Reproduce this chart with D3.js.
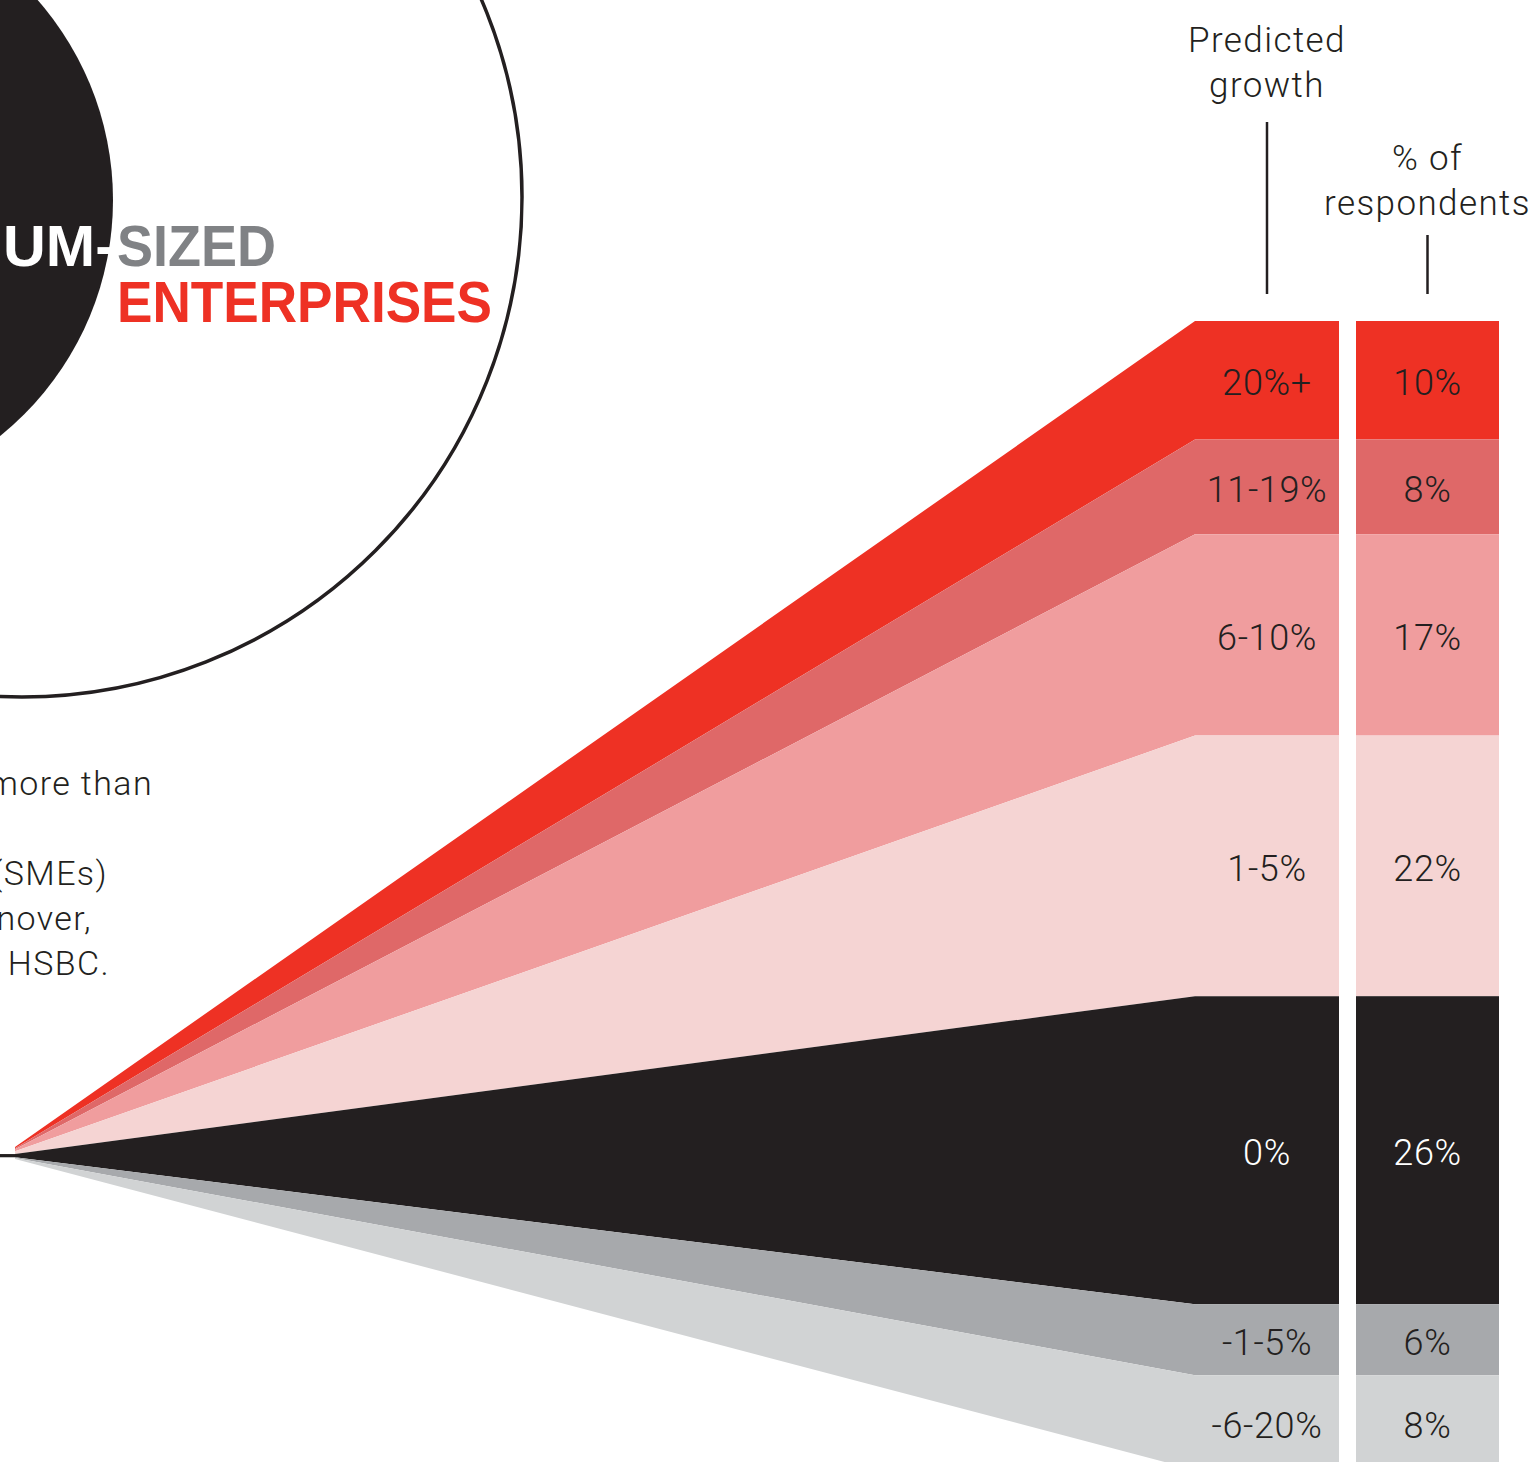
<!DOCTYPE html>
<html>
<head>
<meta charset="utf-8">
<title>SME predicted growth</title>
<script src="https://cdn.jsdelivr.net/npm/d3@7/dist/d3.min.js"></script>
<style>
  * { margin: 0; padding: 0; }
  body { background: #fff; overflow: hidden; }
  svg { display: block; }
</style>
</head>
<body>
<div id="show"></div>
<script>
// data
var growthLabels = ["20%+", "11-19%", "6-10%", "1-5%", "0%", "-1-5%", "-6-20%"];
var respondents = [10, 8, 17, 22, 26, 6, 8];
var bandColors = ["#ee3124", "#df6868", "#f09d9e", "#f5d4d3", "#231f20", "#a7a9ac", "#d1d3d4"];
var textColors = ["#231f20", "#231f20", "#231f20", "#231f20", "#ffffff", "#231f20", "#231f20"];
var headers = [["Predicted", "growth"], ["% of", "respondents"]];
var paragraph = ["more than", "", "(SMEs)", "turnover,", "HSBC."];

var W = 1537, H = 1462;
var apexX = 15, fanEnd = 1195, col1End = 1339, col2Start = 1356, col2End = 1499;

var total = d3.sum(respondents);
var cum = [0].concat(Array.from(d3.cumsum(respondents)));

// band heights at the right, and the pinched end at the apex
var y = d3.scaleLinear().domain([0, total]).range([321, 1470]);
var yApex = d3.scaleLinear().domain([0, total]).range([1147, 1159]);

var bands = respondents.map(function(v, i){
  return { label: growthLabels[i], value: v, c0: cum[i], c1: cum[i + 1],
           fill: bandColors[i], text: textColors[i] };
});

var svg = d3.select("#show").append("svg")
  .attr("width", W).attr("height", H);

// circles top-left
svg.append("circle").attr("cx", -190).attr("cy", 200).attr("r", 303)
  .attr("fill", "#231f20");
svg.append("circle").attr("cx", 22).attr("cy", 197).attr("r", 500)
  .attr("fill", "none").attr("stroke", "#231f20").attr("stroke-width", 3.5);

// title
var tf = "'Liberation Sans', Arial, sans-serif";
svg.append("text").attr("x", 3).attr("y", 266)
  .attr("font-family", tf).attr("font-weight", "bold").attr("font-size", 58)
  .attr("fill", "#fff").attr("textLength", 112).attr("lengthAdjust", "spacingAndGlyphs")
  .text("UM-");
svg.append("text").attr("x", 117).attr("y", 266)
  .attr("font-family", tf).attr("font-weight", "bold").attr("font-size", 58)
  .attr("fill", "#808285").attr("textLength", 159).attr("lengthAdjust", "spacingAndGlyphs")
  .text("SIZED");
svg.append("text").attr("x", 117).attr("y", 322)
  .attr("font-family", tf).attr("font-weight", "bold").attr("font-size", 58)
  .attr("fill", "#ee3124").attr("textLength", 375).attr("lengthAdjust", "spacingAndGlyphs")
  .text("ENTERPRISES");

// clipped intro paragraph (cut by the left edge as in the source layout)
var pEnds = [153, 0, 108, 92, 110];
svg.append("g").selectAll("text").data(paragraph).enter().append("text")
  .attr("x", function(d, i){ return pEnds[i]; })
  .attr("y", function(d, i){ return 795 + i * 45; })
  .attr("text-anchor", "end")
  .attr("font-family", "Roboto, sans-serif").attr("font-weight", 300)
  .attr("font-size", 34).attr("letter-spacing", 1.4).attr("fill", "#231f20")
  .text(function(d){ return d; });

// fan + first column
var fan = svg.append("g").attr("class", "fan");
fan.append("rect").attr("x", 0).attr("y", yApex(cum[4])).attr("width", apexX + 2)
  .attr("height", yApex(cum[5]) - yApex(cum[4])).attr("fill", bandColors[4]);

fan.selectAll("path").data(bands).enter().append("path")
  .attr("fill", function(d){ return d.fill; })
  .attr("d", function(d){
    var p = d3.path();
    p.moveTo(apexX, yApex(d.c0));
    p.lineTo(fanEnd, y(d.c0));
    p.lineTo(col1End, y(d.c0));
    p.lineTo(col1End, y(d.c1));
    p.lineTo(fanEnd, y(d.c1));
    p.lineTo(apexX, yApex(d.c1));
    p.closePath();
    return p.toString();
  });

// second column
svg.append("g").selectAll("rect").data(bands).enter().append("rect")
  .attr("x", col2Start).attr("width", col2End - col2Start)
  .attr("y", function(d){ return y(d.c0); })
  .attr("height", function(d){ return y(d.c1) - y(d.c0); })
  .attr("fill", function(d){ return d.fill; });

// labels
var lf = "Roboto, sans-serif";
var labels = svg.append("g").attr("font-family", lf).attr("font-weight", 300)
  .attr("font-size", 36).attr("text-anchor", "middle");
labels.selectAll("text.g").data(bands).enter().append("text").attr("class", "g")
  .attr("x", (fanEnd + col1End) / 2)
  .attr("y", function(d){ return (y(d.c0) + y(d.c1)) / 2 + 15; })
  .attr("fill", function(d){ return d.text; })
  .attr("letter-spacing", 0.6)
  .text(function(d){ return d.label; });
labels.selectAll("text.r").data(bands).enter().append("text").attr("class", "r")
  .attr("x", (col2Start + col2End) / 2)
  .attr("y", function(d){ return (y(d.c0) + y(d.c1)) / 2 + 15; })
  .attr("fill", function(d){ return d.text; })
  .attr("letter-spacing", 0.6)
  .text(function(d){ return d.value + "%"; });

// column headers and pointer lines
var hx = [(fanEnd + col1End) / 2, (col2Start + col2End) / 2];
var hy = [52, 170];
var lineTop = [122, 235];
headers.forEach(function(h, i){
  var t = svg.append("text").attr("x", hx[i]).attr("y", hy[i])
    .attr("text-anchor", "middle").attr("font-family", lf).attr("font-weight", 300)
    .attr("font-size", 35).attr("letter-spacing", 1.4).attr("fill", "#231f20");
  h.forEach(function(s, j){
    t.append("tspan").attr("x", hx[i]).attr("dy", j ? 45 : 0).text(s);
  });
  svg.append("line").attr("x1", hx[i]).attr("x2", hx[i])
    .attr("y1", lineTop[i]).attr("y2", 294)
    .attr("stroke", "#231f20").attr("stroke-width", 2.5);
});
</script>
</body>
</html>
